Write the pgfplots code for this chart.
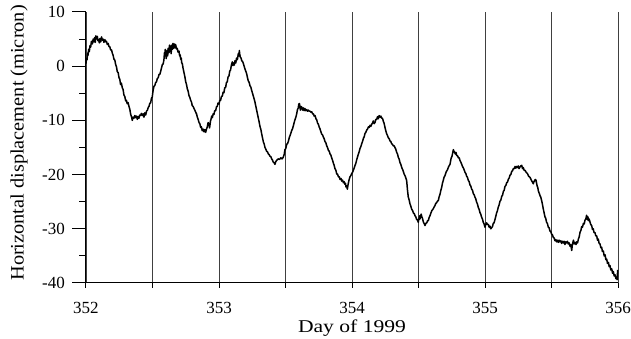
\documentclass[border=0pt]{standalone}
\usepackage{pgfplots}
\pgfplotsset{compat=1.18}
\usepackage{fontspec}
\setmainfont{Liberation Serif}
\newfontfamily\xlabfont{Liberation Serif}[FakeStretch=1.2]
\newfontfamily\ylabfont{Liberation Serif}[FakeStretch=1.07]

% Horizontal displacement record, days 352--356 of 1999
\pgfplotstableread{
day     disp
352.000  0.5
352.004  1.4
352.008  1.2
352.012  2.4
352.015  2.0
352.020  3.1
352.025  2.7
352.030  3.8
352.035  3.5
352.041  4.6
352.048  4.1
352.054  5.0
352.060  4.5
352.065  5.3
352.070  4.4
352.074  5.6
352.078  5.0
352.085  5.5
352.090  4.7
352.095  4.9
352.100  4.3
352.105  5.1
352.111  4.5
352.117  5.4
352.123  4.8
352.129  5.0
352.135  4.4
352.142  4.9
352.148  4.5
352.154  4.6
352.160  4.0
352.167  4.2
352.173  3.6
352.179  3.6
352.185  3.0
352.192  3.0
352.198  2.4
352.204  2.0
352.210  1.3
352.217  1.1
352.223  0.3
352.229 -0.1
352.235 -1.0
352.242 -1.2
352.248 -2.1
352.254 -2.4
352.260 -3.4
352.266 -3.1
352.273 -4.0
352.279 -4.3
352.285 -5.3
352.292 -5.6
352.298 -6.4
352.304 -6.3
352.310 -6.9
352.316 -6.7
352.323 -7.4
352.330 -8.0
352.336 -8.9
352.342 -9.3
352.348 -10.0
352.354 -9.4
352.360 -9.6
352.367 -9.1
352.374 -9.5
352.380 -9.2
352.386 -9.8
352.392 -9.3
352.398 -9.6
352.404 -9.0
352.410 -9.1
352.417 -8.7
352.423 -9.1
352.430 -8.8
352.436 -9.4
352.442 -8.6
352.449 -9.0
352.455 -8.3
352.462 -8.1
352.468 -7.6
352.474 -7.4
352.480 -6.8
352.486 -6.8
352.492 -5.9
352.498 -5.7
352.505 -4.4
352.511 -3.7
352.517 -3.6
352.524 -3.0
352.530 -2.9
352.536 -2.3
352.543 -2.1
352.549 -1.5
352.555 -1.5
352.562 -0.9
352.568 -0.3
352.574  0.3
352.580  0.4
352.586  1.2
352.590  2.5
352.593  1.9
352.596  3.1
352.599  2.5
352.603  1.4
352.606  2.2
352.610  2.9
352.614  1.9
352.618  3.3
352.624  2.5
352.628  3.9
352.632  2.9
352.636  3.7
352.640  2.3
352.645  3.9
352.649  3.1
352.654  4.2
352.660  3.3
352.666  4.1
352.670  3.4
352.674  4.0
352.680  3.2
352.686  3.3
352.692  2.6
352.699  2.8
352.704  1.9
352.708  2.1
352.712  1.3
352.716  1.5
352.720  0.6
352.724  0.5
352.730 -0.4
352.737 -1.2
352.743 -1.9
352.750 -2.9
352.756 -3.4
352.762 -4.2
352.768 -4.6
352.774 -5.4
352.780 -5.7
352.787 -6.3
352.793 -6.6
352.799 -7.3
352.805 -7.4
352.812 -7.8
352.818 -8.1
352.825 -8.5
352.831 -8.8
352.837 -9.4
352.843 -9.8
352.850 -10.4
352.856 -10.6
352.862 -11.3
352.868 -11.2
352.874 -11.9
352.880 -11.6
352.887 -12.1
352.893 -11.7
352.900 -12.2
352.906 -11.6
352.912 -11.2
352.918 -10.4
352.925 -10.7
352.929 -11.4
352.932 -10.9
352.936 -10.1
352.940 -9.8
352.945 -9.2
352.950 -9.5
352.956 -8.8
352.962 -8.9
352.968 -8.2
352.975 -8.2
352.981 -7.5
352.987 -7.4
352.993 -6.8
353.000 -7.0
353.006 -6.3
353.012 -6.3
353.018 -5.6
353.025 -5.5
353.031 -4.8
353.037 -4.9
353.043 -4.0
353.050 -3.9
353.056 -3.0
353.062 -2.9
353.068 -2.0
353.075 -1.8
353.081 -0.9
353.087 -0.7
353.093  0.2
353.100  0.8
353.105  0.1
353.110  0.6
353.115  0.2
353.120  1.0
353.126  0.6
353.132  1.5
353.138  1.2
353.145  2.3
353.150  1.9
353.153  2.9
353.156  2.2
353.160  1.7
353.166  1.5
353.171  1.0
353.177  0.9
353.183  0.5
353.189  0.0
353.195 -0.5
353.201 -0.9
353.208 -1.4
353.214 -2.1
353.220 -2.7
353.227 -3.0
353.233 -3.6
353.240 -3.9
353.246 -4.5
353.252 -5.0
353.258 -5.5
353.265 -6.1
353.271 -6.7
353.277 -7.4
353.283 -8.1
353.289 -8.8
353.295 -9.5
353.302 -10.3
353.308 -11.1
353.315 -11.7
353.321 -12.5
353.327 -13.2
353.333 -13.9
353.340 -14.4
353.346 -15.0
353.352 -15.3
353.358 -15.7
353.365 -15.8
353.371 -16.2
353.377 -16.3
353.383 -16.6
353.390 -16.7
353.396 -17.1
353.402 -17.3
353.408 -17.7
353.414 -17.8
353.421 -18.1
353.427 -17.6
353.433 -17.4
353.440 -17.2
353.446 -17.1
353.455 -17.2
353.465 -16.9
353.474 -17.1
353.483 -16.8
353.490 -16.3
353.496 -15.4
353.502 -15.2
353.509 -14.4
353.515 -14.3
353.521 -13.9
353.527 -13.3
353.534 -12.8
353.540 -12.4
353.546 -11.9
353.552 -11.6
353.559 -11.0
353.565 -10.4
353.571 -9.9
353.578 -9.4
353.584 -8.8
353.590 -8.0
353.596 -7.7
353.600 -7.0
353.605 -6.9
353.609 -7.6
353.612 -8.1
353.616 -7.4
353.619 -7.8
353.622 -7.5
353.628 -8.1
353.634 -7.7
353.640 -8.2
353.646 -7.8
353.652 -8.2
353.659 -8.0
353.665 -8.3
353.672 -8.1
353.678 -8.3
353.685 -8.3
353.691 -8.5
353.697 -8.4
353.704 -8.8
353.710 -8.8
353.716 -9.2
353.722 -9.1
353.729 -9.7
353.735 -9.9
353.741 -10.5
353.747 -10.7
353.753 -11.2
353.760 -11.6
353.766 -12.1
353.772 -12.5
353.779 -12.7
353.785 -13.1
353.791 -13.4
353.797 -13.9
353.803 -14.1
353.810 -14.7
353.816 -15.0
353.822 -15.5
353.829 -15.7
353.835 -16.2
353.841 -16.4
353.847 -16.9
353.853 -17.3
353.859 -17.8
353.866 -18.3
353.872 -18.9
353.879 -19.2
353.885 -19.9
353.891 -19.9
353.898 -20.4
353.904 -20.4
353.910 -20.9
353.917 -20.7
353.923 -21.2
353.929 -21.0
353.935 -21.5
353.941 -21.3
353.947 -21.8
353.951 -21.6
353.955 -22.3
353.960 -22.1
353.965 -22.7
353.970 -21.9
353.975 -21.3
353.980 -20.8
353.985 -20.4
353.991 -20.2
353.998 -19.8
354.004 -19.6
354.010 -19.2
354.016 -18.8
354.023 -18.3
354.029 -17.9
354.035 -17.3
354.042 -16.7
354.048 -16.2
354.054 -15.8
354.060 -15.2
354.067 -14.8
354.073 -14.3
354.079 -13.9
354.086 -13.3
354.092 -13.0
354.098 -12.4
354.104 -12.2
354.110 -11.8
354.117 -11.6
354.123 -11.2
354.129 -11.3
354.136 -10.9
354.142 -11.1
354.148 -10.7
354.154 -10.5
354.160 -10.1
354.166 -10.6
354.173 -10.4
354.179 -9.8
354.186 -9.8
354.192 -9.3
354.198 -9.7
354.204 -9.1
354.211 -9.4
354.217 -9.2
354.223 -9.6
354.229 -9.6
354.235 -10.1
354.242 -10.6
354.248 -11.3
354.254 -11.9
354.261 -12.5
354.267 -12.8
354.273 -13.2
354.280 -13.4
354.286 -13.8
354.292 -13.9
354.298 -14.3
354.304 -14.4
354.311 -14.7
354.317 -14.7
354.323 -15.0
354.329 -15.3
354.336 -15.9
354.342 -16.2
354.348 -16.8
354.354 -17.1
354.361 -17.8
354.367 -18.1
354.374 -18.7
354.383 -19.2
354.392 -19.9
354.402 -20.4
354.411 -21.1
354.417 -22.8
354.423 -24.1
354.430 -24.7
354.436 -25.4
354.442 -25.8
354.449 -26.4
354.455 -26.6
354.462 -27.1
354.468 -27.2
354.474 -27.6
354.480 -27.8
354.486 -28.3
354.492 -28.3
354.498 -28.8
354.504 -28.1
354.508 -27.6
354.511 -28.2
354.517 -27.6
354.520 -27.3
354.524 -27.7
354.530 -28.1
354.536 -28.7
354.542 -29.0
354.549 -29.4
354.555 -29.0
354.562 -28.9
354.568 -28.5
354.574 -28.5
354.580 -27.9
354.586 -27.6
354.592 -27.2
354.599 -26.7
354.605 -26.5
354.611 -26.3
354.617 -26.0
354.624 -25.7
354.630 -25.3
354.636 -25.2
354.642 -24.9
354.649 -24.8
354.655 -24.1
354.662 -23.6
354.668 -22.9
354.674 -22.4
354.680 -21.6
354.686 -21.1
354.692 -20.5
354.699 -20.2
354.708 -19.5
354.718 -19.1
354.727 -18.5
354.737 -18.1
354.745 -17.0
354.752 -16.6
354.758 -15.9
354.762 -15.4
354.767 -15.7
354.772 -15.9
354.777 -16.2
354.782 -15.9
354.787 -16.5
354.793 -16.5
354.800 -16.9
354.806 -16.9
354.812 -17.4
354.820 -17.8
354.831 -18.5
354.840 -18.9
354.850 -19.6
354.856 -19.8
354.862 -20.3
354.868 -20.5
354.875 -21.1
354.881 -21.3
354.887 -21.9
354.893 -22.1
354.900 -22.7
354.906 -22.9
354.912 -23.5
354.918 -23.7
354.925 -24.2
354.931 -24.5
354.937 -25.1
354.943 -25.4
354.950 -26.1
354.956 -26.4
354.962 -27.0
354.968 -27.3
354.975 -27.9
354.981 -28.2
354.987 -28.8
354.993 -29.1
355.000 -29.7
355.006 -29.2
355.012 -28.9
355.018 -29.2
355.025 -29.2
355.031 -29.7
355.037 -29.5
355.043 -30.0
355.050 -29.8
355.056 -29.6
355.062 -29.0
355.068 -28.9
355.075 -28.3
355.081 -27.7
355.087 -27.1
355.093 -26.7
355.100 -26.0
355.106 -25.6
355.113 -24.9
355.119 -24.7
355.126 -24.0
355.132 -23.8
355.138 -23.1
355.144 -22.9
355.150 -22.2
355.157 -22.0
355.163 -21.5
355.169 -21.4
355.175 -20.9
355.182 -20.6
355.188 -20.1
355.194 -20.0
355.201 -19.4
355.207 -19.3
355.213 -18.9
355.220 -18.9
355.226 -18.5
355.232 -18.8
355.238 -18.5
355.244 -18.7
355.250 -18.4
355.256 -18.9
355.263 -18.6
355.269 -18.4
355.276 -18.3
355.282 -18.9
355.288 -18.7
355.294 -19.2
355.301 -19.2
355.310 -19.6
355.319 -19.8
355.328 -20.3
355.338 -20.5
355.344 -20.8
355.350 -21.1
355.357 -21.4
355.363 -21.7
355.368 -21.3
355.373 -21.1
355.378 -20.9
355.383 -21.0
355.388 -21.6
355.392 -22.1
355.397 -22.4
355.401 -23.0
355.407 -23.4
355.414 -23.9
355.420 -24.2
355.426 -24.8
355.432 -25.5
355.438 -26.3
355.444 -27.0
355.451 -27.8
355.457 -28.1
355.463 -28.8
355.469 -29.0
355.476 -29.7
355.482 -29.8
355.488 -30.4
355.494 -30.5
355.501 -31.0
355.507 -31.1
355.514 -31.6
355.520 -31.7
355.526 -32.2
355.532 -32.0
355.538 -32.4
355.544 -32.1
355.551 -32.5
355.557 -32.1
355.564 -32.4
355.570 -32.2
355.576 -32.7
355.582 -32.3
355.589 -32.6
355.595 -32.3
355.601 -32.9
355.607 -32.4
355.614 -32.6
355.620 -32.3
355.626 -32.8
355.632 -32.6
355.639 -33.2
355.645 -32.9
355.652 -34.0
355.656 -33.1
355.660 -32.6
355.665 -32.1
355.671 -32.8
355.677 -32.5
355.684 -32.9
355.690 -32.4
355.696 -32.6
355.702 -31.9
355.708 -31.5
355.715 -30.6
355.721 -30.3
355.727 -29.6
355.733 -29.7
355.740 -29.0
355.746 -29.1
355.752 -28.4
355.758 -28.2
355.764 -27.5
355.770 -28.3
355.774 -27.8
355.777 -28.5
355.783 -28.2
355.789 -28.7
355.795 -29.2
355.802 -29.4
355.808 -30.1
355.814 -30.0
355.820 -30.7
355.827 -30.7
355.833 -31.3
355.840 -31.3
355.846 -32.1
355.852 -31.9
355.858 -32.7
355.865 -32.8
355.871 -33.5
355.877 -33.4
355.883 -34.2
355.890 -34.1
355.896 -35.0
355.903 -34.8
355.909 -35.7
355.915 -35.6
355.921 -36.4
355.928 -36.2
355.934 -37.0
355.940 -36.8
355.946 -37.6
355.953 -37.4
355.959 -38.2
355.965 -37.9
355.971 -38.7
355.978 -38.5
355.984 -39.2
355.990 -38.9
355.993 -39.4
355.995 -38.6
355.998 -37.6
}\disptable

\begin{document}
\begin{tikzpicture}
\useasboundingbox (-86pt,-56pt) rectangle (545pt,283pt);
\begin{axis}[
  at={(0,0)}, anchor=south west,
  scale only axis, width=532pt, height=271pt,
  xmin=352, xmax=356, ymin=-40, ymax=10,
  axis x line=bottom, axis y line=left,
  axis line style={-, line width=1pt, black},
  xtick={352,353,354,355,356},
  minor xtick={352.5,353.5,354.5,355.5},
  ytick={-40,-30,...,10},
  xmajorgrids, xminorgrids,
  major grid style={black!75, line width=0.75pt},
  minor grid style={black!75, line width=0.75pt},
  tick align=inside,
  tick style={draw=none},
  /pgf/number format/assume math mode=true,
  ticklabel style={font=\fontsize{17}{19}\selectfont, inner sep=0pt},
  xticklabel style={anchor=north, yshift=-19pt},
  yticklabel style={anchor=east, xshift=-21pt},
  xlabel={Day of 1999},
  ylabel={Horizontal displacement (micron)},
  xlabel style={at={(axis description cs:0.5,-0.1845)}, anchor=base,
    font=\xlabfont\fontsize{18}{20}\selectfont},
  ylabel style={at={(axis description cs:-0.126,0.517)}, anchor=center,
    font=\ylabfont\fontsize{19}{21}\selectfont},
  clip=false,
]
\addplot[black, line width=1.5pt, line join=round] table[x=day, y=disp] {\disptable};
% outward tick marks: long major and short minor on the displacement axis
\pgfplotsinvokeforeach{-40,-30,-20,-10,0,10}{
  \draw[black, line width=1pt] (axis cs:352,#1) -- ++(-14pt,0pt);
}
\pgfplotsinvokeforeach{-35,-25,-15,-5,5}{
  \draw[black, line width=1pt] (axis cs:352,#1) -- ++(-7pt,0pt);
}
% short downward ticks every half day
\pgfplotsinvokeforeach{352,352.5,353,353.5,354,354.5,355,355.5,356}{
  \draw[black, line width=1pt] (axis cs:#1,-40) -- ++(0pt,-5pt);
}
\end{axis}
\end{tikzpicture}
\end{document}
